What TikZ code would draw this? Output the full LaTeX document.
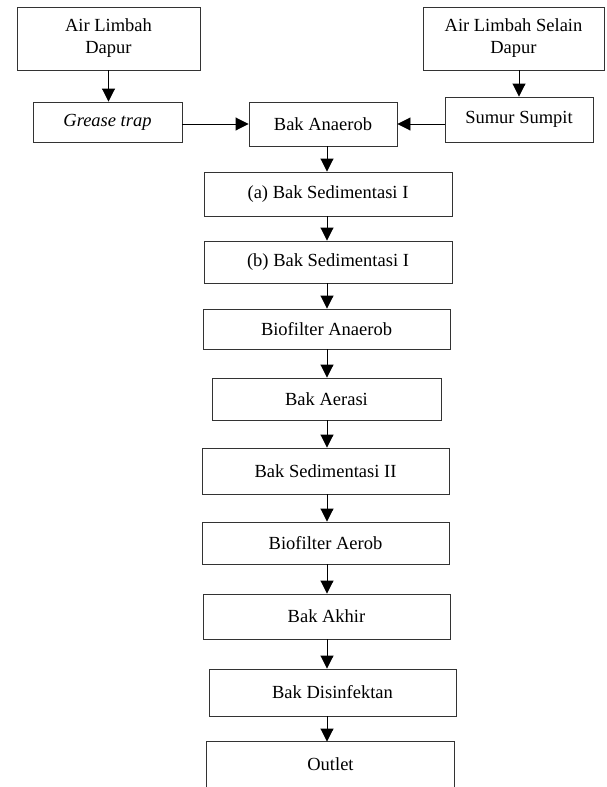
\documentclass[tikz,border=0pt]{standalone}
\usepackage{fontspec}
\setmainfont{Liberation Serif}
\usetikzlibrary{arrows.meta}
\begin{document}
\begin{tikzpicture}[x=1pt,y=-1pt,
  box/.style={draw=black!80, line width=0.9pt, align=center, inner sep=0pt,
    font=\fontsize{18.5}{22}\selectfont},
  flow/.style={draw=black, line width=0.9pt, -{Triangle[length=13pt,width=13pt]}},
  edge/.style={draw=black!80, line width=0.9pt}]
\useasboundingbox (0,0) rectangle (606,787);
\fill[white] (0,0) rectangle (606,787);

\node[box, minimum width=183pt, minimum height=63pt] (ald) at (108.5,38.5) {Air Limbah\\Dapur};
\node[box, minimum width=181pt, minimum height=63pt] (alsd) at (513.5,38.5) {Air Limbah Selain\\Dapur};
\node[box, minimum width=149pt, minimum height=40pt] (grease) at (107.5,122) {\textit{Grease trap}};
\node[box, minimum width=148pt, minimum height=44pt] (anaerob) at (323,124) {Bak Anaerob};
\node[box, minimum width=148pt, minimum height=45pt] (sumur) at (519,119.5) {Sumur Sumpit};
\node[box, minimum width=248pt, minimum height=44pt] (sa) at (328,194) {(a) Bak Sedimentasi I};
\node[box, minimum width=248pt, minimum height=42pt] (sb) at (328,262) {(b) Bak Sedimentasi I};
\node[box, minimum width=247pt, minimum height=40pt] (bioan) at (326.5,329) {Biofilter Anaerob};
\node[box, minimum width=229pt, minimum height=42pt] (aerasi) at (326.5,399) {Bak Aerasi};
\node[box, minimum width=247pt, minimum height=46pt] (sed2) at (325.5,471) {Bak Sedimentasi II};
\node[box, minimum width=247pt, minimum height=42pt] (bioaer) at (325.5,543) {Biofilter Aerob};
\node[box, minimum width=247pt, minimum height=45pt] (akhir) at (326.5,616.5) {Bak Akhir};
\node[box, minimum width=247pt, minimum height=47pt] (disinf) at (332.5,692.5) {Bak Disinfektan};
\node[box, draw=none, minimum width=247pt, minimum height=45pt] (outlet) at (330.5,764.5) {Outlet};
\draw[edge] (outlet.south west) -- (outlet.north west) -- (outlet.north east) -- (outlet.south east);

\coordinate (spine) at (327,0);
\draw[flow] (ald.south) -- (ald.south |- grease.north);
\draw[flow] (sumur.north |- alsd.south) -- (sumur.north);
\draw[flow] (grease.east |- anaerob.west) -- (anaerob.west);
\draw[flow] (sumur.west |- anaerob.east) -- (anaerob.east);
\foreach \a/\b in {anaerob/sa, sa/sb, sb/bioan, bioan/aerasi, aerasi/sed2, sed2/bioaer, bioaer/akhir, akhir/disinf, disinf/outlet}
  \draw[flow] (\a.south -| spine) -- (\b.north -| spine);
\end{tikzpicture}
\end{document}
